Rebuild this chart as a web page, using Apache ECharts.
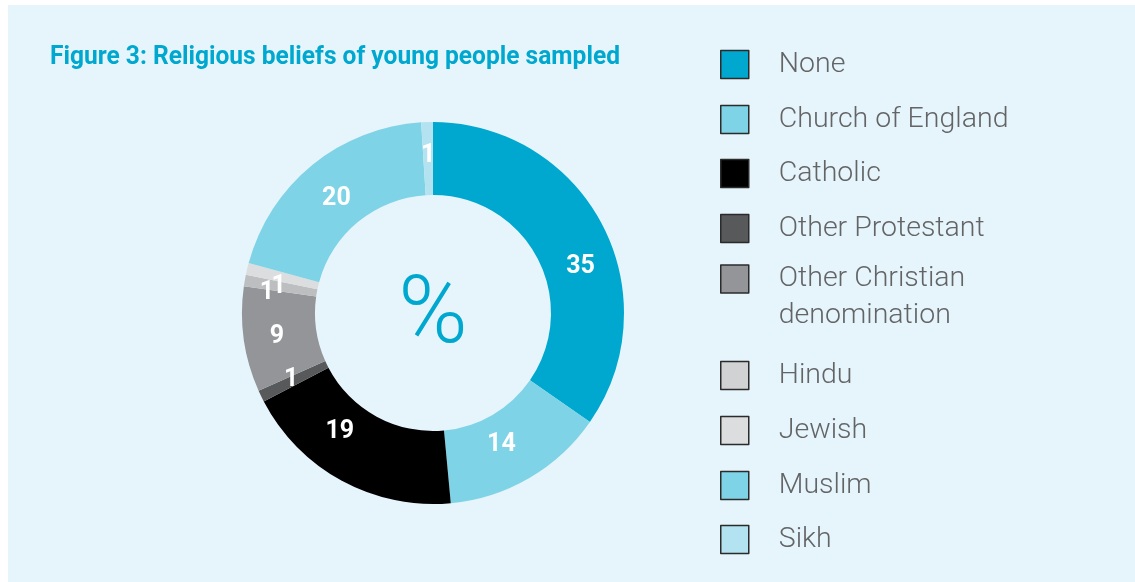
<!DOCTYPE html>
<html>
<head>
<meta charset="utf-8">
<script src="https://cdn.jsdelivr.net/npm/echarts@6/dist/echarts.min.js"></script>
<style>
html,body{margin:0;padding:0;background:#ffffff;}
#chart{width:1135px;height:582px;}
</style>
</head>
<body>
<div id="chart"></div>
<script>
const categories = ['None','Church of England','Catholic','Other Protestant','Other Christian denomination','Hindu','Jewish','Muslim','Sikh'];
const values = [35,14,19,1,9,1,1,20,1];
const colors = ['#00a8d0','#7fd3e6','#000000','#58595b','#939598','#bcbec0','#dcdddf','#7fd3e6','#b3e3f0'];
const legendColors = ['#00a8d0','#7fd3e6','#000000','#58595b','#939598','#d1d2d4','#dcdddf','#7fd3e6','#b3e3f0'];
const legendCenters = [62,117,171,226,281,373,428,483,537];
// small manual nudges of slice labels (style only)
const labelNudges = [[8,27],[-11,-4],[-18,-20],[0,-2],[0,2],[-11,7],[-1,10],[3,8],[0,0]];

const titleText = 'Figure 3: Religious beliefs of young people sampled';
const titleFont = 'bold 26px Roboto, "Liberation Sans", sans-serif';
const cv = document.createElement('canvas').getContext('2d');
cv.font = titleFont;
const titleScale = 570 / cv.measureText(titleText).width;

const chart = echarts.init(document.getElementById('chart'), null, {renderer:'canvas'});

const legends = categories.map((name, i) => {
  const multi = name === 'Other Christian denomination';
  return {
    data: [{name: name, itemStyle: {color: legendColors[i], borderColor: '#2b2b2b', borderWidth: 1.5}}],
    left: 720,
    top: multi ? legendCenters[i] - 57.5 : legendCenters[i] - 16,
    padding: 0,
    icon: 'rect',
    itemWidth: 28,
    itemHeight: 28,
    selectedMode: false,
    formatter: multi ? '\nOther Christian\ndenomination' : '{name}',
    textStyle: {
      color: '#636466',
      fontFamily: 'Roboto',
      fontWeight: 300,
      fontSize: 28.5,
      lineHeight: 37,
      padding: [0,0,0,25]
    }
  };
});

chart.setOption({
  backgroundColor: '#ffffff',
  animation: false,
  graphic: [
    {type:'rect', left:8, top:5, z:-10, shape:{width:1127, height:577}, style:{fill:'#e6f5fb'}},
    {type:'text', x:50, y:57, scaleX: titleScale, style:{text:titleText, fill:'#00a8d0', font:titleFont, verticalAlign:'middle'}},
    {type:'text', x:433, y:318, style:{text:'%', fill:'#00a8d0', font:'300 94px Roboto, sans-serif', align:'center', verticalAlign:'middle'}}
  ],
  legend: legends,
  series: [{
    type: 'pie',
    center: [433, 313],
    radius: [118, 191],
    startAngle: 90,
    clockwise: true,
    avoidLabelOverlap: false,
    labelLayout: {hideOverlap: false},
    label: {
      show: true,
      position: 'inside',
      formatter: '{c}',
      color: '#ffffff',
      fontFamily: 'Roboto',
      fontWeight: 'bold',
      fontSize: 25
    },
    labelLine: {show:false},
    emphasis: {disabled: true},
    itemStyle: {borderWidth: 0},
    data: categories.map((n,i) => ({
      name:n, value:values[i],
      itemStyle:{color:colors[i]},
      label:{offset: labelNudges[i]}
    }))
  }]
});
</script>
</body>
</html>
